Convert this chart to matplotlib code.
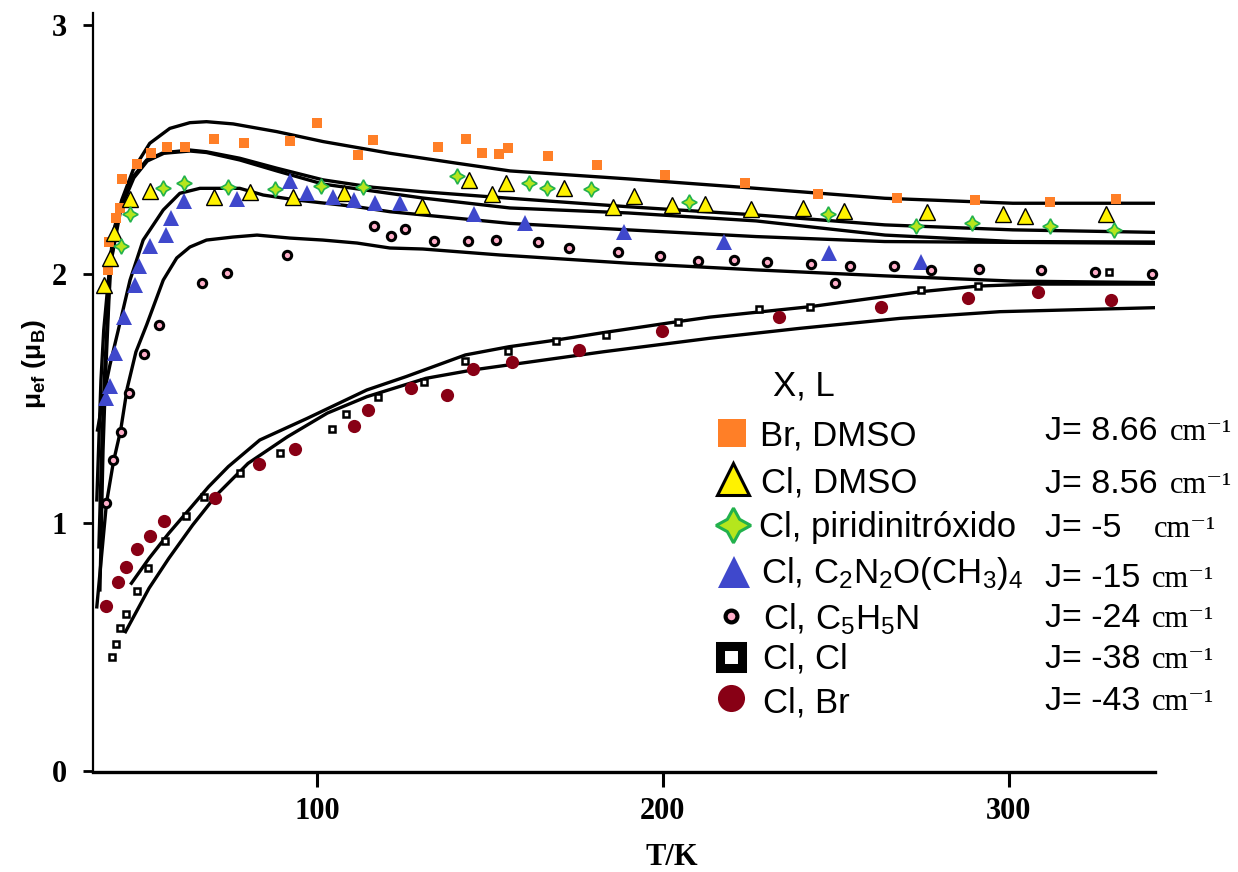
import matplotlib
matplotlib.use("Agg")
import matplotlib.pyplot as plt

# --- data (T in K, mu_ef in mu_B) ---
T_br_dmso = [39.7, 40.0, 41.9, 43.1, 43.8, 48.0, 52.0, 56.7, 61.8, 70.2, 79.0, 92.2, 100.1, 111.9, 116.1,
             134.9, 143.1, 147.8, 152.7, 155.3, 166.9, 180.9, 200.7, 223.7, 244.8, 267.5, 290.1, 312.0, 330.8]
mu_br_dmso = [2.016, 2.128, 2.224, 2.264, 2.382, 2.441, 2.485, 2.511, 2.511, 2.542, 2.525, 2.534, 2.606, 2.478, 2.538,
              2.511, 2.542, 2.487, 2.482, 2.505, 2.474, 2.438, 2.398, 2.367, 2.322, 2.305, 2.297, 2.289, 2.302]

T_cl_dmso = [38.4, 40.2, 41.3, 46.0, 51.9, 70.2, 80.6, 93.2, 107.9, 130.3, 144.0, 150.5, 154.7, 171.4, 185.6,
             191.6, 202.5, 212.3, 225.5, 240.5, 252.2, 276.4, 298.2, 304.7, 328.0]
mu_cl_dmso = [1.955, 2.063, 2.163, 2.300, 2.335, 2.310, 2.331, 2.308, 2.324, 2.273, 2.376, 2.321, 2.364, 2.347, 2.268,
              2.314, 2.276, 2.280, 2.262, 2.264, 2.254, 2.249, 2.240, 2.232, 2.240]

T_pyno = [43.3, 46.0, 55.6, 61.7, 74.4, 88.0, 101.2, 113.2, 140.4, 161.2, 166.5, 179.1, 207.4, 247.6, 273.0,
          289.4, 311.9, 330.4]
mu_pyno = [2.112, 2.241, 2.347, 2.364, 2.351, 2.341, 2.355, 2.348, 2.395, 2.367, 2.344, 2.340, 2.288, 2.240, 2.193,
           2.203, 2.193, 2.177]

T_tmio = [39.0, 40.1, 41.8, 44.3, 47.5, 48.6, 51.7, 56.4, 57.9, 61.6, 76.8, 92.2, 97.0, 104.7, 110.8, 116.8,
          124.0, 145.4, 160.1, 188.7, 217.6, 248.0, 274.6]
mu_tmio = [1.500, 1.549, 1.681, 1.825, 1.955, 2.032, 2.112, 2.156, 2.224, 2.294, 2.301, 2.374, 2.327, 2.308, 2.297,
           2.284, 2.284, 2.240, 2.203, 2.170, 2.130, 2.083, 2.047]

T_py = [39.2, 41.2, 43.3, 45.6, 50.1, 54.4, 66.7, 73.9, 91.4, 116.5, 121.3, 125.4, 133.9, 143.6, 151.7, 163.8,
        172.9, 187.0, 199.2, 210.2, 220.6, 230.1, 242.9, 249.6, 254.2, 266.8, 277.6, 291.2, 309.3, 325.0, 341.3]
mu_py = [1.080, 1.252, 1.365, 1.520, 1.678, 1.794, 1.965, 2.005, 2.076, 2.193, 2.154, 2.181, 2.132, 2.132, 2.136,
         2.127, 2.103, 2.087, 2.072, 2.053, 2.057, 2.048, 2.041, 1.965, 2.032, 2.033, 2.014, 2.018, 2.014, 2.009, 1.998]

T_clcl = [40.9, 41.9, 43.0, 44.8, 47.9, 51.1, 56.0, 62.1, 67.5, 77.9, 89.3, 104.4, 108.5, 117.7, 130.9, 142.7,
          155.3, 169.2, 183.6, 204.3, 227.8, 242.5, 274.5, 291.1, 328.9]
mu_clcl = [0.461, 0.511, 0.575, 0.634, 0.725, 0.817, 0.926, 1.027, 1.104, 1.198, 1.279, 1.378, 1.437, 1.506, 1.567,
           1.651, 1.689, 1.730, 1.754, 1.808, 1.858, 1.868, 1.935, 1.951, 2.008]

T_clbr = [39.2, 42.6, 44.9, 48.1, 51.8, 55.9, 70.6, 83.2, 93.6, 110.8, 114.9, 127.3, 137.7, 145.1, 156.4, 175.8,
          199.7, 233.5, 263.0, 288.3, 308.3, 329.4]
mu_clbr = [0.663, 0.760, 0.821, 0.893, 0.947, 1.005, 1.100, 1.237, 1.296, 1.388, 1.454, 1.542, 1.512, 1.616, 1.644,
           1.693, 1.770, 1.825, 1.868, 1.904, 1.926, 1.895]

# fitted curves
fitA_T = [36.4, 37.6, 38.4, 39.6, 41.1, 43.6, 46.9, 51.7, 57.5, 63.3, 68.1, 75.8, 88.4, 101.8, 121.1, 140.4,
          155.8, 189.9, 226.9, 264.1, 301.1, 342.0]
fitA_mu = [1.091, 1.573, 1.774, 1.955, 2.164, 2.297, 2.418, 2.525, 2.585, 2.608, 2.612, 2.603, 2.572, 2.532, 2.485,
           2.445, 2.414, 2.382, 2.344, 2.304, 2.284, 2.284]
fitB_T = [37.0, 37.9, 38.7, 39.6, 40.2, 43.1, 46.9, 50.8, 55.6, 63.3, 68.1, 77.7, 88.4, 101.8, 116.3, 130.7,
          155.8, 189.9, 226.9, 264.1, 301.1, 342.0]
fitB_mu = [0.902, 1.332, 1.614, 1.855, 2.029, 2.270, 2.391, 2.458, 2.487, 2.498, 2.491, 2.465, 2.425, 2.378, 2.348,
           2.330, 2.304, 2.270, 2.237, 2.197, 2.177, 2.167]
fitC_T = [37.3, 38.2, 39.0, 39.9, 40.5, 43.4, 47.1, 51.0, 55.8, 63.3, 68.1, 77.7, 88.4, 101.8, 116.2, 130.6,
          155.8, 189.9, 226.9, 264.2, 301.2, 342.0]
fitC_mu = [0.729, 1.292, 1.614, 1.895, 2.048, 2.265, 2.386, 2.454, 2.485, 2.494, 2.488, 2.458, 2.414, 2.361, 2.333,
           2.305, 2.265, 2.245, 2.213, 2.156, 2.130, 2.128]
fitD_T = [36.6, 38.4, 40.2, 42.6, 46.0, 49.8, 55.6, 60.4, 66.2, 77.7, 84.5, 94.1, 111.5, 121.1, 155.8, 189.9,
          226.9, 264.1, 342.0]
fitD_mu = [1.372, 1.513, 1.634, 1.774, 1.975, 2.136, 2.257, 2.324, 2.344, 2.344, 2.317, 2.297, 2.270, 2.250, 2.203,
           2.177, 2.150, 2.130, 2.123]
fitE_T = [36.4, 39.2, 41.2, 43.3, 45.2, 47.7, 50.8, 55.6, 59.5, 63.3, 68.1, 75.7, 82.7, 92.2, 101.7, 111.6,
          121.1, 130.6, 152.9, 189.9, 226.9, 264.1, 301.1, 342.0]
fitE_mu = [0.661, 1.079, 1.244, 1.372, 1.541, 1.686, 1.795, 1.975, 2.064, 2.108, 2.136, 2.148, 2.156, 2.144, 2.136,
           2.124, 2.104, 2.100, 2.076, 2.043, 2.016, 1.992, 1.971, 1.965]
fitF_T = [46.4, 51.5, 57.2, 63.0, 68.7, 74.4, 83.5, 97.2, 114.4, 125.8, 142.9, 155.5, 169.2, 182.9, 204.3, 213.5,
          242.5, 274.3, 291.1, 306.9, 342.0]
fitF_mu = [0.756, 0.856, 0.957, 1.051, 1.144, 1.225, 1.332, 1.419, 1.533, 1.587, 1.674, 1.707, 1.734, 1.764, 1.808,
           1.826, 1.868, 1.928, 1.951, 1.959, 1.959]
fitG_T = [44.7, 51.5, 57.2, 64.1, 71.0, 80.1, 91.5, 103.0, 114.4, 131.5, 145.2, 155.5, 182.9, 213.5, 239.6, 268.5,
          297.4, 342.0]
fitG_mu = [0.561, 0.736, 0.856, 0.990, 1.111, 1.238, 1.345, 1.440, 1.506, 1.580, 1.614, 1.634, 1.687, 1.741, 1.781,
           1.821, 1.848, 1.864]

x_ticks = [100, 200, 300]
y_ticks = [0, 1, 2, 3]

legend_labels = ["Br, DMSO", "Cl, DMSO", "Cl, piridinitróxido", r"Cl, $\mathregular{C_2N_2O(CH_3)_4}$",
                 r"Cl, $\mathregular{C_5H_5N}$", "Cl, Cl", "Cl, Br"]
j_labels = ["J= 8.66", "J= 8.56", "J= -5", "J= -15", "J= -24", "J= -38", "J= -43"]

# marker styles (series order same as legend)
styles = [
    dict(marker="s", ms=7.2, mfc="#FF7F27", mec="#FF7F27", mew=0),
    dict(marker="^", ms=11, mfc="#FFF200", mec="black", mew=1.0),
    dict(marker=(4, 1, 0), ms=11, mfc="#B5E61D", mec="#22B14C", mew=1.2),
    dict(marker="^", ms=11.5, mfc="#3F48CC", mec="#3F48CC", mew=0),
    dict(marker="o", ms=6, mfc="#FFAEC9", mec="black", mew=2.2),
    dict(marker="s", ms=4.5, mfc="white", mec="black", mew=1.8),
    dict(marker="o", ms=9.5, mfc="#880015", mec="#880015", mew=0),
]
legend_styles = [
    dict(marker="s", ms=19.5, mfc="#FF7F27", mec="#FF7F27", mew=0),
    dict(marker="^", ms=23, mfc="#FFF200", mec="black", mew=2.2),
    dict(marker=(4, 1, 0), ms=25, mfc="#B5E61D", mec="#22B14C", mew=2.2),
    dict(marker="^", ms=23.5, mfc="#3F48CC", mec="#3F48CC", mew=0),
    dict(marker="o", ms=8.5, mfc="#FFAEC9", mec="black", mew=3),
    dict(marker="s", ms=16, mfc="white", mec="black", mew=6.5),
    dict(marker="o", ms=19.5, mfc="#880015", mec="#880015", mew=0),
]

fig = plt.figure(figsize=(12.38, 8.72), dpi=100)
ax = fig.add_axes([93 / 1238, 1 - 772 / 872, (1155 - 93) / 1238, (772 - 13) / 872])

for ft, fm in [(fitA_T, fitA_mu), (fitB_T, fitB_mu), (fitC_T, fitC_mu), (fitD_T, fitD_mu),
               (fitE_T, fitE_mu), (fitF_T, fitF_mu), (fitG_T, fitG_mu)]:
    ax.plot(ft, fm, color="black", lw=2.4, solid_joinstyle="round", zorder=2)

series = [(T_br_dmso, mu_br_dmso), (T_cl_dmso, mu_cl_dmso), (T_pyno, mu_pyno), (T_tmio, mu_tmio),
          (T_py, mu_py), (T_clcl, mu_clcl), (T_clbr, mu_clbr)]
for (t, m), st in zip(series, styles):
    ax.plot(t, m, ls="none", zorder=3, clip_on=False, **st)

ax.set_xlim(35.3, 342.2)
ax.set_ylim(-0.003, 3.049)
tick_font = dict(family="Liberation Serif", fontweight="bold", fontsize=22)
ax.set_xticks(x_ticks, labels=[str(v) for v in x_ticks], **tick_font)
ax.set_yticks(y_ticks, labels=[str(v) for v in y_ticks], **tick_font)
for s in ["top", "right"]:
    ax.spines[s].set_visible(False)
ax.spines["left"].set_linewidth(1.6)
ax.spines["bottom"].set_linewidth(2.4)
ax.tick_params(axis="x", direction="out", length=11, width=2.2, pad=7)
ax.tick_params(axis="y", direction="out", length=7, width=2, pad=12)

# overlay in pixel coordinates for labels and the hand-made legend
ov = fig.add_axes([0, 0, 1, 1])
ov.set_xlim(0, 1238)
ov.set_ylim(872, 0)
ov.axis("off")
ov.patch.set_visible(False)

ov.text(672, 857, "T/K", family="Liberation Serif", fontweight="bold", fontsize=22, ha="center", va="center")
ov.text(34, 364, r"μ$_\mathregular{ef}$ (μ$_\mathregular{B}$)", family="Liberation Sans", fontweight="bold",
        fontsize=19, rotation=90, ha="center", va="center")

sans = "Liberation Sans"
ov.text(773, 395, "X, L", family=sans, fontsize=25, ha="left", va="baseline")
mk_x = [732, 733, 733, 734, 731, 731, 731]
mk_y = [433, 479, 525, 572, 616, 657, 698]
lab_x = [760, 761, 759, 761, 763, 763, 763]
lab_base = [445, 492, 537, 583, 629, 668, 712]
j_base = [440, 493, 537, 587, 627, 668, 710]
cm_x = [1170, 1170, 1154, 1152, 1152, 1152, 1152]
for i in range(7):
    ov.plot([mk_x[i]], [mk_y[i]], ls="none", clip_on=False, **legend_styles[i])
    ov.text(lab_x[i], lab_base[i], legend_labels[i], family=sans, fontsize=25, ha="left", va="baseline")
    ov.text(1045, j_base[i], j_labels[i], family=sans, fontsize=24.5, ha="left", va="baseline")
    ov.text(cm_x[i], j_base[i], "cm⁻¹", family=["Liberation Serif", "DejaVu Serif"], fontsize=22,
            ha="left", va="baseline")

fig.savefig("out.png", dpi=100)
